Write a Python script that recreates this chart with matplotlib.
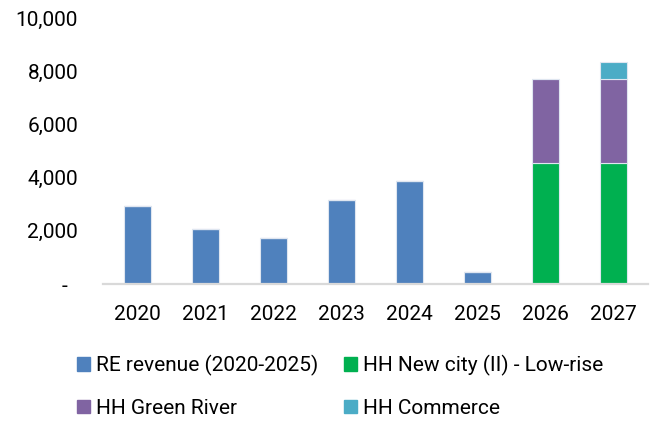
import matplotlib.pyplot as plt
import numpy as np
from matplotlib.patches import Patch
from matplotlib.ticker import FuncFormatter

plt.rcParams["font.family"] = ["Roboto", "DejaVu Sans"]

years = ["2020", "2021", "2022", "2023", "2024", "2025", "2026", "2027"]
re_revenue = [2920, 2050, 1720, 3140, 3880, 460, 0, 0]
new_city = [0, 0, 0, 0, 0, 0, 4530, 4530]
green_river = [0, 0, 0, 0, 0, 0, 3190, 3190]
commerce = [0, 0, 0, 0, 0, 0, 0, 610]

series = [
    ("RE revenue (2020-2025)", re_revenue, "#4F81BD"),
    ("HH New city (II) - Low-rise", new_city, "#00B050"),
    ("HH Green River", green_river, "#8064A2"),
    ("HH Commerce", commerce, "#4BACC6"),
]

fig = plt.figure(figsize=(6.57, 4.21), dpi=100)
ax = fig.add_axes([0.157, 0.3254, 0.829, 0.632])

x = np.arange(len(years))
bottom = np.zeros(len(years))
for name, vals, color in series:
    vals = np.array(vals, dtype=float)
    ax.bar(x, vals, 0.4, bottom=bottom, color=color,
           edgecolor="#dfe6f0", linewidth=0.8)
    bottom += vals

ax.set_xlim(-0.5, len(years) - 0.5)
ax.set_ylim(0, 10000)
ax.set_yticks(np.arange(0, 10001, 2000))
# accounting-style axis: zero shown as a dash
ax.yaxis.set_major_formatter(
    FuncFormatter(lambda v, _: "-  " if v == 0 else f"{v:,.0f}"))
ax.set_xticks(x)
ax.set_xticklabels(years)
ax.tick_params(axis="both", length=0, labelsize=15, colors="black")
ax.tick_params(axis="y", pad=18)
ax.tick_params(axis="x", pad=15)

for s in ("top", "right", "left"):
    ax.spines[s].set_visible(False)
ax.spines["bottom"].set_color("#d9d9d9")
ax.spines["bottom"].set_linewidth(1.6)

# column-wise fill: RE / Green River, then New city / Commerce
order = [0, 2, 1, 3]
handles = [Patch(color=series[i][2], label=series[i][0]) for i in order]
fig.legend(handles=handles, ncol=2, loc="upper left",
           bbox_to_anchor=(0.105, 0.177), frameon=False,
           fontsize=15, handlelength=0.62, handleheight=0.62,
           handletextpad=0.3, columnspacing=1.2, labelspacing=1.1,
           borderaxespad=0)

fig.savefig("out.png", dpi=100)
